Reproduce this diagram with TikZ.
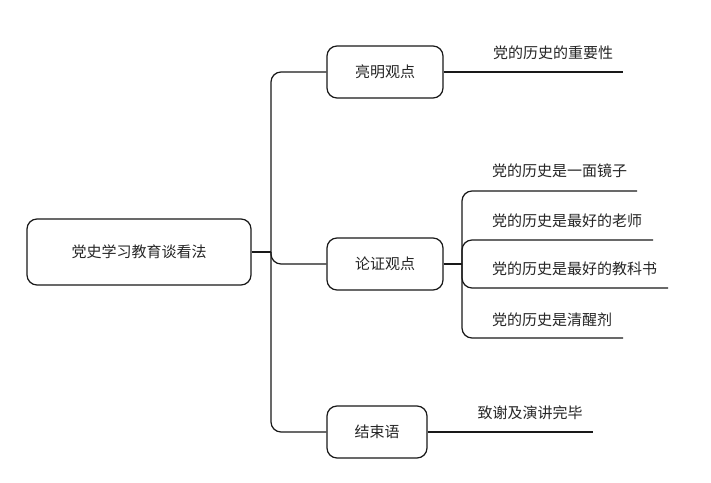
\documentclass[tikz,border=0pt]{standalone}
\usepackage{fontspec}
\setmainfont{Noto Sans CJK SC}
\begin{document}
\begin{tikzpicture}[x=1pt,y=-1pt,
  every node/.style={font=\fontsize{15}{18}\selectfont, text=black!85},
  topic/.style={draw=black!90, line width=1.25pt, rounded corners=10pt, minimum height=52pt, inner sep=0pt},
  leaf/.style={inner sep=0pt, anchor=center},
  conn/.style={draw=black!90, line width=1.25pt, rounded corners=10pt}]
\useasboundingbox (0,0) rectangle (711,482);
\fill[white] (0,0) rectangle (711,482);
% main topics
\node[topic, minimum width=224pt, minimum height=66pt] (root) at (139,252) {党史学习教育谈看法};
\node[topic, minimum width=116pt] (b1) at (385,72) {亮明观点};
\node[topic, minimum width=116pt] (b2) at (385,264) {论证观点};
\node[topic, minimum width=100pt] (b3) at (377,432) {结束语};
% leaves
\node[leaf] (l1) at (553,53) {党的历史的重要性};
\node[leaf, anchor=west] (c1) at (492,171) {党的历史是一面镜子};
\node[leaf, anchor=west] (c2) at (492,221) {党的历史是最好的老师};
\node[leaf, anchor=west] (c3) at (492,269) {党的历史是最好的教科书};
\node[leaf, anchor=west] (c4) at (492,320) {党的历史是清醒剂};
\node[leaf] (l3) at (530,413) {致谢及演讲完毕};
% coordinates
\coordinate (j0) at (271,252);
\coordinate (j2) at (462,264);
\coordinate (u1) at (623,72);
\coordinate (u3) at (593,432);
\coordinate (e1) at (637,191);
\coordinate (e2) at (653,240);
\coordinate (e3) at (668,288);
\coordinate (e4) at (623,338);
% connectors
\draw[conn] (root.east) -- (j0);
\draw[conn] (j0) |- (b1.west);
\draw[conn] (j0) |- (b2.west);
\draw[conn] (j0) |- (b3.west);
\draw[conn] (b1.east) -- (u1);
\draw[conn] (b3.east) -- (u3);
\draw[conn] (b2.east) -- (j2);
\draw[conn] (j2) |- (e1);
\draw[conn] (j2) |- (e2);
\draw[conn] (j2) |- (e3);
\draw[conn] (j2) |- (e4);
\end{tikzpicture}
\end{document}
